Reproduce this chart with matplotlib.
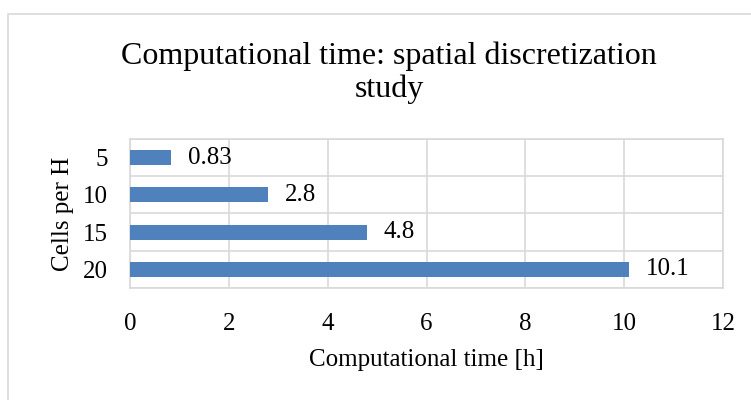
import numpy as np
import matplotlib.pyplot as plt
from matplotlib.patches import Rectangle

cells = ['5', '10', '15', '20']
hours = [0.83, 2.8, 4.8, 10.1]
labels = ['0.83', '2.8', '4.8', '10.1']

plt.rcParams['font.family'] = ['Liberation Serif', 'DejaVu Serif']

W, H = 751, 400
fig = plt.figure(figsize=(W / 100, H / 100), dpi=100)
# chart border (cut off on the right and bottom like the reference)
fig.patches.append(Rectangle((8 / W, -0.1), 1.0, 1.1 - 14 / H, transform=fig.transFigure,
                             fill=False, edgecolor='#d9d9d9', linewidth=1.2))

ax = fig.add_axes([130 / W, 1 - 288 / H, (723 - 130) / W, (288 - 139) / H])

y = np.arange(len(cells))
ax.barh(y, hours, height=0.4, color='#4F81BD', zorder=3)
for yi, h, lab in zip(y, hours, labels):
    ax.annotate(lab, (h, yi), xytext=(12, 0), textcoords='offset points',
                va='center', ha='left', fontsize=18)

ax.set_xlim(0, 12)
ax.set_xticks(range(0, 13, 2))
ax.set_ylim(len(cells) - 0.5, -0.5)
ax.set_yticks(y)
ax.set_yticklabels(cells)
ax.set_yticks(np.arange(-0.5, len(cells)), minor=True)
ax.grid(axis='x', color='#d9d9d9', linewidth=1.2, zorder=0)
ax.grid(axis='y', which='minor', color='#d9d9d9', linewidth=1.2, zorder=0)
ax.tick_params(which='both', length=0, labelsize=18)
ax.tick_params(axis='x', pad=18)
ax.tick_params(axis='y', pad=16)
for s in ax.spines.values():
    s.set_color('#d9d9d9')
    s.set_linewidth(1.2)

ax.set_xlabel('Computational time [h]', fontsize=18, labelpad=10)
ax.set_ylabel('Cells per H', fontsize=18, labelpad=6)

fig.text(389 / W, 1 - 64 / H, 'Computational time: spatial discretization',
         ha='center', va='baseline', fontsize=23)
fig.text(389 / W, 1 - 97 / H, 'study', ha='center', va='baseline', fontsize=23)

fig.savefig('out.png', dpi=100)
